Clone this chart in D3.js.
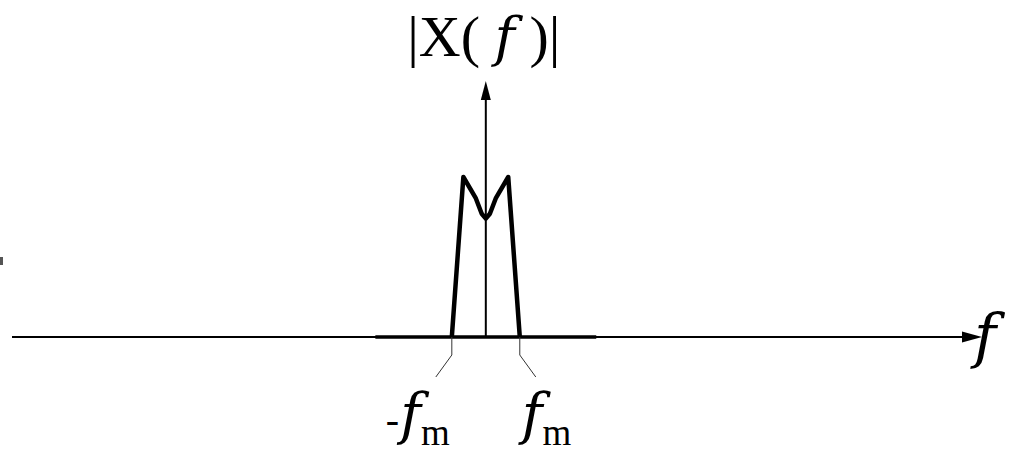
<!DOCTYPE html>
<html><head><meta charset="utf-8">
<script src="https://cdn.jsdelivr.net/npm/d3@7"></script>
<style>html,body{margin:0;padding:0;background:#fff;}svg{display:block;}</style>
</head><body>
<script>
// Spectrum |X(f)| (f in units of fm)
const freqs = [-1, -0.66, -0.3, -0.12, 0, 0.12, 0.3, 0.66, 1];
const mags  = [0, 1, 0.87, 0.77, 0.74, 0.77, 0.87, 1, 0];
const axisDomainF = [-14, 14.6];
const baseSegment = [-3.25, 3.25];
const yAxisTop = 1.6;
const tickValues = [-1, 1];
const tickLabels = ["-f", "f"];

const W = 1010, H = 453;
const svg = d3.select("body").append("svg").attr("width", W).attr("height", H);
const x = d3.scaleLinear().domain(axisDomainF).range([10, 982]);
const y = d3.scaleLinear().domain([0, 1]).range([337, 177]);

svg.append("rect").attr("x", 0).attr("y", 257).attr("width", 3).attr("height", 8).attr("fill", "#555");

svg.append("line").attr("x1", x(axisDomainF[0]) + 2).attr("x2", x(axisDomainF[1]) - 15)
  .attr("y1", y(0)).attr("y2", y(0)).attr("stroke", "#000").attr("stroke-width", 2);
svg.append("path")
  .attr("d", `M${x(axisDomainF[1])},${y(0)} L${x(axisDomainF[1]) - 20},${y(0) - 5.5} L${x(axisDomainF[1]) - 20},${y(0) + 5.5} Z`)
  .attr("fill", "#000");
svg.append("line").attr("x1", x(baseSegment[0])).attr("x2", x(baseSegment[1]))
  .attr("y1", y(0)).attr("y2", y(0)).attr("stroke", "#000").attr("stroke-width", 3.5);

svg.append("line").attr("x1", x(0)).attr("x2", x(0)).attr("y1", y(0)).attr("y2", y(yAxisTop) + 10)
  .attr("stroke", "#000").attr("stroke-width", 2);
svg.append("path")
  .attr("d", `M${x(0)},${y(yAxisTop)} L${x(0) - 5},${y(yAxisTop) + 19} L${x(0) + 5},${y(yAxisTop) + 19} Z`)
  .attr("fill", "#000");

const pts = freqs.map((f, i) => [f, mags[i]]);
svg.append("path").datum(pts)
  .attr("d", d3.line().x(d => x(d[0])).y(d => y(d[1])).curve(d3.curveLinear))
  .attr("fill", "none").attr("stroke", "#000").attr("stroke-width", 4.5).attr("stroke-linejoin", "round");

tickValues.forEach(v => {
  const x0 = x(v), dir = v < 0 ? -1 : 1;
  svg.append("path")
    .attr("d", `M${x0},${y(0)} L${x0},${y(0) + 18} L${x0 + dir * 16},${y(0) + 40}`)
    .attr("fill", "none").attr("stroke", "#333").attr("stroke-width", 1);
});

const font = "'Liberation Serif', 'Times New Roman', serif";
const ifont = "'DejaVu Serif', serif";
tickValues.forEach((v, i) => {
  const t = svg.append("text").attr("font-family", font).attr("font-size", 56)
    .attr("x", v < 0 ? x(v) - 66 : x(v) + 1).attr("y", 433);
  if (v < 0) t.append("tspan").text("-").attr("font-size", 40).attr("dx", 0);
  t.append("tspan").text(tickLabels[i].replace("-", "")).attr("font-style", "italic").attr("font-family", ifont).attr("dx", 1);
  t.append("tspan").text("m").attr("font-size", 37).attr("dy", 12).attr("dx", 0);
});

const title = svg.append("text").attr("font-family", font).attr("font-size", 58)
  .attr("x", x(0) - 2).attr("y", 56).attr("text-anchor", "middle");
title.append("tspan").text("|X( ");
title.append("tspan").text("f").attr("font-style", "italic").attr("font-family", ifont).attr("font-size", 55);
title.append("tspan").text(" )|");

svg.append("text").attr("font-family", ifont).attr("font-size", 60).attr("font-style", "italic")
  .attr("x", 974).attr("y", 357).text("f");
</script>
</body></html>
